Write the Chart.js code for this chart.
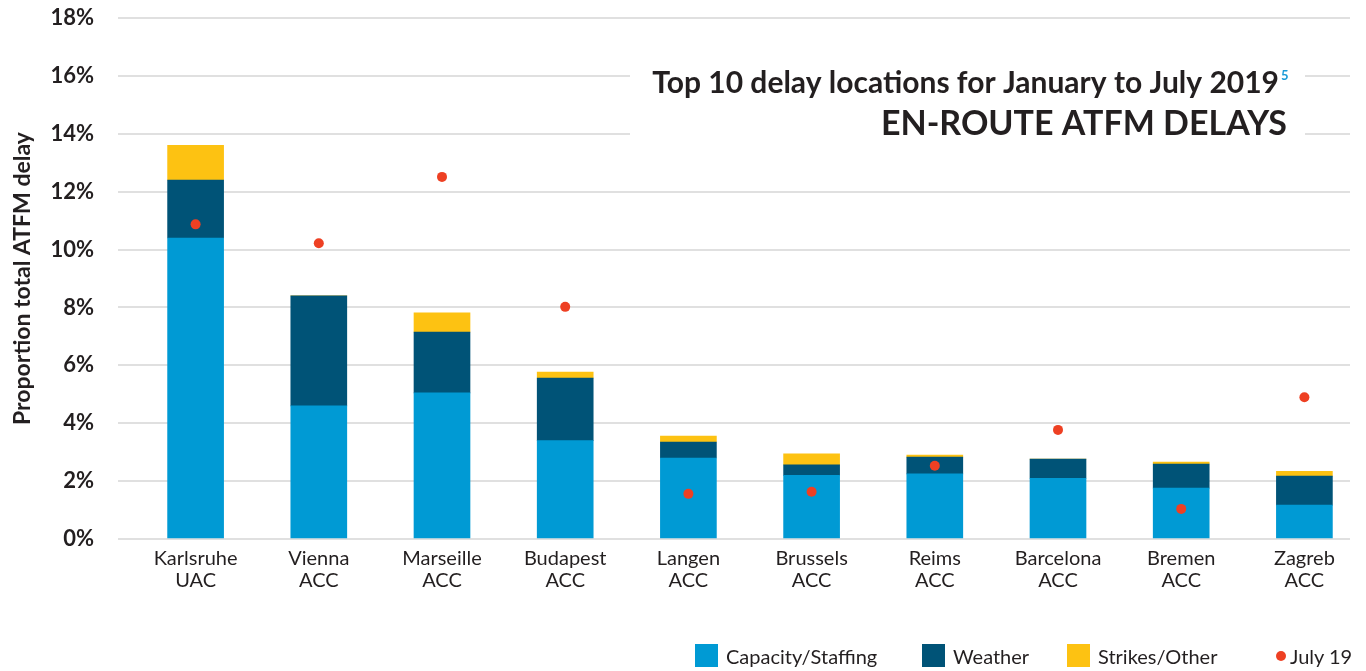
<!DOCTYPE html>
<html>
<head>
<meta charset="utf-8">
<title>Top 10 delay locations for January to July 2019</title>
<script src="https://cdn.jsdelivr.net/npm/chart.js@4.4.1/dist/chart.umd.min.js"></script>
<style>
    html, body { margin: 0; padding: 0; background: #ffffff; }
    #contenedor { position: relative; width: 1366px; height: 671px; }
    #leyenda {
        position: absolute; left: 0; top: 644px; width: 1366px; height: 23px;
        font: 20px Lato, "Open Sans", sans-serif; color: #231f20;
    }
    .item { position: absolute; top: 0; display: flex; align-items: center; height: 23px; white-space: nowrap; }
    .muestra { width: 23px; height: 23px; margin-right: 8px; }
    .punto { width: 10px; height: 10px; border-radius: 50%; margin-right: 4px; }
</style>
</head>
<body>
<div id="contenedor">
    <canvas id="grafico-retrasos"></canvas>
    <div id="leyenda"></div>
</div>
<script>
const categorias = [
    ['Karlsruhe', 'UAC'], ['Vienna', 'ACC'], ['Marseille', 'ACC'], ['Budapest', 'ACC'], ['Langen', 'ACC'],
    ['Brussels', 'ACC'], ['Reims', 'ACC'], ['Barcelona', 'ACC'], ['Bremen', 'ACC'], ['Zagreb', 'ACC']
];
const capacidadPersonal = [10.4, 4.6, 5.05, 3.4, 2.8, 2.2, 2.25, 2.1, 1.76, 1.17];
const meteorologia = [2.0, 3.8, 2.1, 2.16, 0.55, 0.36, 0.58, 0.66, 0.83, 1.0];
const huelgasOtros = [1.2, 0, 0.66, 0.21, 0.21, 0.38, 0.07, 0, 0.07, 0.17];
const julio2019 = [10.87, 10.22, 12.51, 8.02, 1.56, 1.63, 2.53, 3.77, 1.04, 4.9];
const marcasEjeY = [0, 2, 4, 6, 8, 10, 12, 14, 16, 18];

const AZUL = '#009ad4';
const AZUL_OSCURO = '#005377';
const AMARILLO = '#fdc212';
const ROJO = '#ee4023';
const TEXTO = '#231f20';
const FUENTE = 'Lato, "Open Sans", sans-serif';

// x de cada elemento de la leyenda (inicio del cuadro o del punto)
const inicioLeyenda = [695, 922, 1067, 1276];

// el eje x empieza algo mas a la derecha que las lineas de la rejilla
const desplazarEjeX = {
    id: 'desplazarEjeX',
    afterLayout(chart) {
        const ejeX = chart.scales.x;
        ejeX.left += 16;
        ejeX.right += 16;
        ejeX.configure();
    }
};

// titulo dentro del area del grafico, tapando la rejilla
const tituloInterior = {
    id: 'tituloInterior',
    beforeDatasetsDraw(chart) {
        const c = chart.ctx;
        const area = chart.chartArea;
        c.save();
        c.fillStyle = '#ffffff';
        c.fillRect(630, area.top + 40, area.right - 45 - 630, 92);
        c.textBaseline = 'alphabetic';
        c.textAlign = 'right';
        c.fillStyle = TEXTO;
        c.font = 'bold 30px ' + FUENTE;
        c.fillText('Top 10 delay locations for January to July 2019', area.right - 71, area.top + 75);
        c.textAlign = 'left';
        c.fillStyle = '#1b9bd7';
        c.font = 'bold 13px ' + FUENTE;
        c.fillText('5', area.right - 69, area.top + 62);
        c.textAlign = 'right';
        c.fillStyle = TEXTO;
        c.font = 'bold 34px ' + FUENTE;
        c.fillText('EN-ROUTE ATFM DELAYS', area.right - 63, area.top + 117);
        c.restore();
    }
};

const leyendaHtml = {
    id: 'leyendaHtml',
    afterUpdate(chart) {
        const caja = document.getElementById('leyenda');
        caja.innerHTML = '';
        const items = chart.options.plugins.legend.labels.generateLabels(chart)
            .sort((a, b) => a.datasetIndex - b.datasetIndex);
        items.forEach((item, i) => {
            const ds = chart.data.datasets[item.datasetIndex];
            const fila = document.createElement('div');
            fila.className = 'item';
            fila.style.left = inicioLeyenda[i] + 'px';
            const marca = document.createElement('span');
            marca.className = ds.type === 'line' ? 'punto' : 'muestra';
            marca.style.background = item.fillStyle;
            const texto = document.createElement('span');
            texto.textContent = item.text;
            fila.appendChild(marca);
            fila.appendChild(texto);
            caja.appendChild(fila);
        });
    }
};

const ctx = document.getElementById('grafico-retrasos');
new Chart(ctx, {
    type: 'bar',
    data: {
        labels: categorias,
        datasets: [
            { label: 'Capacity/Staffing', data: capacidadPersonal, backgroundColor: AZUL, stack: 'barras', order: 1 },
            { label: 'Weather', data: meteorologia, backgroundColor: AZUL_OSCURO, stack: 'barras', order: 1 },
            { label: 'Strikes/Other', data: huelgasOtros, backgroundColor: AMARILLO, stack: 'barras', order: 1 },
            {
                type: 'line', label: 'July 19', data: julio2019, showLine: false,
                pointRadius: 5, pointHoverRadius: 5, pointBorderWidth: 0,
                pointBackgroundColor: ROJO, backgroundColor: ROJO, borderColor: ROJO,
                stack: 'puntos', order: 0
            }
        ]
    },
    options: {
        responsive: true,
        maintainAspectRatio: false,
        animation: false,
        barThickness: 56,
        layout: { padding: { top: 18, right: 16, bottom: 57, left: 0 } },
        plugins: {
            legend: { display: false },
            tooltip: { enabled: false }
        },
        scales: {
            x: {
                stacked: true,
                grid: { display: false },
                border: { display: false },
                ticks: {
                    color: TEXTO, padding: 1, maxRotation: 0, autoSkip: false,
                    font: { family: FUENTE, size: 20, lineHeight: 1.1 }
                },
                afterFit: (escala) => { escala.height = 75; }
            },
            y: {
                stacked: true,
                min: 0,
                max: 18,
                afterBuildTicks: (escala) => { escala.ticks = marcasEjeY.map(v => ({ value: v })); },
                grid: { color: '#e0e0e0', lineWidth: 2, drawTicks: false },
                border: { display: false },
                ticks: {
                    color: TEXTO, padding: 24,
                    font: { family: FUENTE, size: 22, weight: 'bold' },
                    callback: (v) => v + '%'
                },
                title: {
                    display: true, text: 'Proportion total ATFM delay', color: TEXTO,
                    font: { family: FUENTE, size: 23, weight: 'bold' },
                    padding: { top: 9, bottom: 0 }
                },
                afterFit: (escala) => {
                    escala.width = 118;
                    escala.paddingTop = 0;
                    escala.paddingBottom = 0;
                }
            }
        }
    },
    plugins: [desplazarEjeX, tituloInterior, leyendaHtml]
});
</script>
</body>
</html>
